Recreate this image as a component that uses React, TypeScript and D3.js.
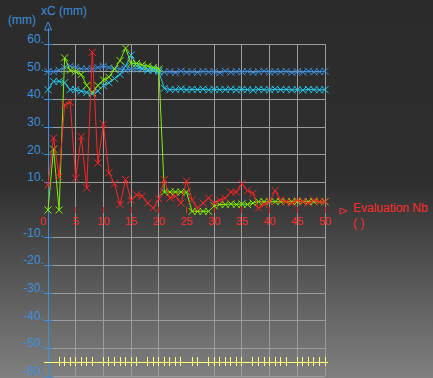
import React from 'react';
import * as d3 from 'd3';

const evaluations = [0,1,2,3,4,5,6,7,8,9,10,11,12,13,14,15,16,17,18,19,20,21,22,23,24,25,26,27,28,29,30,31,32,33,34,35,36,37,38,39,40,41,42,43,44,45,46,47,48,49,50];

const blueSeries = [50,50,50.5,51.5,52,51.5,51,51,51,51.5,52,51.5,51,51,50.5,51,51,51.5,51,51,50.5,
  49.8,50,49.6,50.2,49.8,50,49.7,50.1,49.9,50,49.6,50.2,49.8,50,49.9,50.1,49.7,50,50.2,49.8,50,49.9,50.1,49.7,50,49.8,50.2,49.9,50,50.1];

const cyanSeries = [43.5,46.5,46.5,46,43.5,43.5,43,42.5,42,43,45,46,47.5,49,52,56,52,51,50.5,50.5,50,
  44,43.5,43.5,43.8,43.4,43.6,43.5,43.7,43.4,43.6,43.5,43.5,43.7,43.4,43.6,43.5,43.3,43.6,43.5,43.4,43.7,43.5,43.6,43.4,43.5,43.3,43.6,43.5,43.4,43.5];

const greenSeries = [0,22,0,55,50.5,50,49,45,42.5,45,47,48,51,54,58.5,53,53,52.5,52,51.5,51,
  6.5,6.5,6.5,6.5,6.5,-0.5,-0.5,-0.5,-0.5,1.5,2,2,2.2,2,2.2,2,2.5,3,3,3,3,3,3,3,3,3,3,3,3,3];

const redSeries = [9,26,12,38,39,11.5,26.5,8,57,17,31,13.5,9.5,2,11,3.5,5.5,5,2.5,0.7,4,
  11,4.3,5,2.5,10.5,3.6,0.7,2.5,4.3,2.5,3.5,4.3,6.5,6.5,9.5,7,6,0.7,2,3,7,3.6,3,2.5,3.5,3,2.5,3.5,3,3];

const yTicks = [60,50,40,30,20,10,-10,-20,-30,-40,-50,-60];
const yGrid = [60,50,40,30,20,10,-10,-20,-30,-40,-50,-60];
const xTicks = [0,5,10,15,20,25,30,35,40,45,50];
const xGrid = [5,10,15,20,30,35,40,45,50];
const evalAxisTicks = [2,3,4,5,6,7,8,10,11,12,13,14,15,16,18,19,20,21,22,23,24,26,27,29,30,31,32,33,34,35,37,38,39,40,41,42,43,45,46,47,48,49,50];

const W = 433, H = 378;
const x = d3.scaleLinear().domain([0, 50]).range([48, 325]);
const y = d3.scaleLinear().domain([-60, 60]).range([376, 44]);

const series = [
  { name: 'blue', values: blueSeries, color: '#3a8ee0' },
  { name: 'cyan', values: cyanSeries, color: '#25c8ee' },
  { name: 'green', values: greenSeries, color: '#80f000' },
  { name: 'red', values: redSeries, color: '#ff2424' },
];

const line = d3.line<[number, number]>().x(d => x(d[0])).y(d => y(d[1]));

function Marker({ cx, cy, color }: { cx: number; cy: number; color: string }) {
  const s = 3.5;
  return (
    <path d={`M${cx - s},${cy - s}L${cx + s},${cy + s}M${cx - s},${cy + s}L${cx + s},${cy - s}`} stroke={color} strokeWidth={1} fill="none" />
  );
}

export default function App() {
  const blue = '#3c8fdc';
  const red = '#ff2a2a';
  const yEval = -55;
  return (
    <svg width={W} height={H} style={{ position: 'absolute', left: 0, top: 0 }} fontFamily="'Liberation Sans', Arial, sans-serif">
      <defs>
        <linearGradient id="bg" x1="0" y1="0" x2="0" y2="1">
          <stop offset="0" stopColor="#2b2b2b" />
          <stop offset="0.48" stopColor="#2e2e2e" />
          <stop offset="1" stopColor="#808080" />
        </linearGradient>
      </defs>
      <rect x={0} y={0} width={W} height={H} fill="url(#bg)" />
      {/* grid */}
      <g stroke="#9c9c9c" strokeWidth={1} shapeRendering="crispEdges">
        {yGrid.map(v => <line key={'h' + v} x1={x(0)} x2={x(50)} y1={y(v)} y2={y(v)} />)}
        {xGrid.map(v => <line key={'v' + v} x1={x(v)} x2={x(v)} y1={y(60)} y2={y(-60)} />)}
      </g>
      {/* y axis */}
      <g stroke={blue} shapeRendering="crispEdges">
        <line x1={x(0)} x2={x(0)} y1={28} y2={H} />
        {yTicks.map(v => <line key={'yt' + v} x1={44} x2={53} y1={y(v)} y2={y(v)} />)}
      </g>
      <path d={`M${x(0)},22L${x(0) + 3.5},30L${x(0) - 3.5},30Z`} fill="none" stroke={blue} strokeWidth={1} />
      <g fill={blue} fontSize={12} textAnchor="end">
        {yTicks.map(v => <text key={'yl' + v} x={44} y={y(v) - 1}>{v + '.'}</text>)}
      </g>
      <text x={41} y={15} fill={blue} fontSize={12}>xC (mm)</text>
      <text x={8} y={24} fill={blue} fontSize={12}>(mm)</text>
      {/* x axis ticks + labels */}
      <g stroke={red} shapeRendering="crispEdges">
        {xTicks.filter(v => v > 0).map(v => <line key={'xt' + v} x1={x(v)} x2={x(v)} y1={y(0) - 3} y2={y(0) + 3} />)}
      </g>
      <g fill={red} fontSize={11} textAnchor="middle">
        {xTicks.map(v => <text key={'xl' + v} x={v === 0 ? 43 : x(v)} y={225}>{String(v)}</text>)}
      </g>
      <path d="M340,208L347,211L340,214Z" fill="none" stroke={red} strokeWidth={1} />
      <text x={353} y={212} fill={red} fontSize={12}>Evaluation Nb</text>
      <text x={353} y={227} fill={red} fontSize={12}>( )</text>
      {/* evaluation axis (yellow) */}
      <g stroke="#ffff7a" strokeWidth={1} shapeRendering="crispEdges">
        <line x1={44} x2={328} y1={y(yEval)} y2={y(yEval)} />
        {evalAxisTicks.map(v => <line key={'et' + v} x1={x(v)} x2={x(v)} y1={y(yEval) - 5} y2={y(yEval) + 4} />)}
      </g>
      {/* series */}
      {series.map(s => {
        const pts: [number, number][] = evaluations.map((e, i) => [e, s.values[i]]);
        return (
          <g key={s.name}>
            <path d={line(pts) || ''} fill="none" stroke={s.color} strokeWidth={1} />
            {pts.map((p, i) => <Marker key={i} cx={x(p[0])} cy={y(p[1])} color={s.color} />)}
          </g>
        );
      })}
    </svg>
  );
}
